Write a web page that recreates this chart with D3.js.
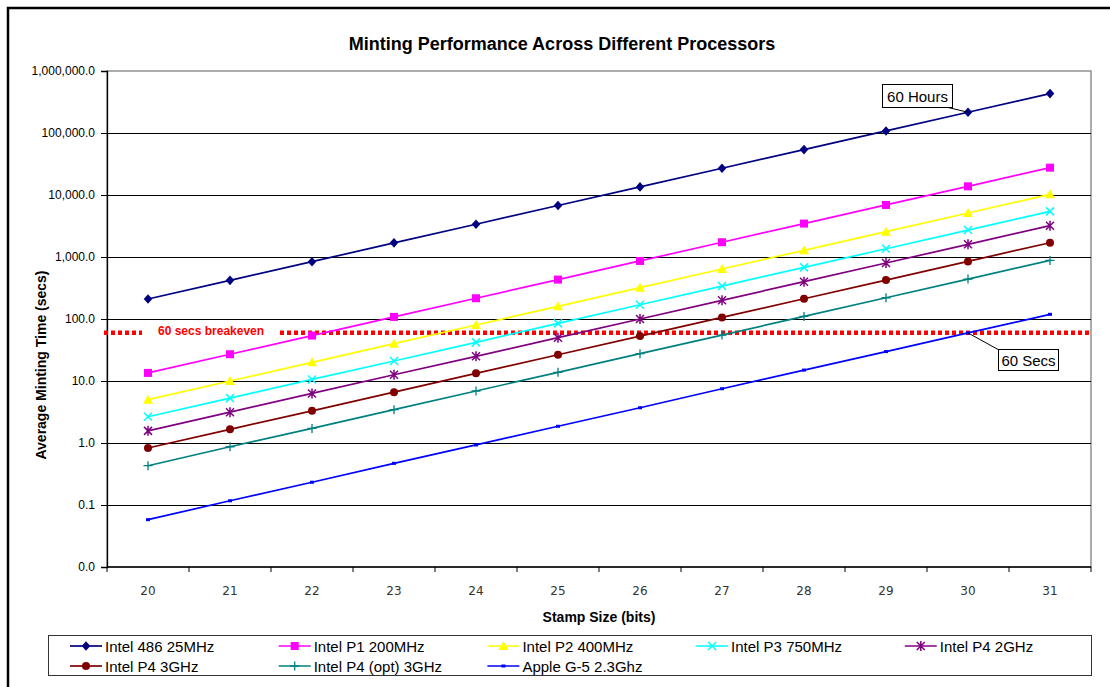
<!DOCTYPE html>
<html>
<head>
<meta charset="utf-8">
<script src="https://cdn.jsdelivr.net/npm/d3@7"></script>
<style>
  html, body { margin: 0; padding: 0; background: #fff; }
  svg { display: block; font-family: Arial, "Liberation Sans", sans-serif; }
</style>
</head>
<body>
<svg id="chart" width="1110" height="687"></svg>
<script>
// Stamp sizes in bits (x categories)
const stampBits = [20, 21, 22, 23, 24, 25, 26, 27, 28, 29, 30, 31];

// Average minting time in seconds for each processor
const intel486 = [210, 420, 840, 1690, 3380, 6760, 13500, 27000, 54000, 108000, 216000, 432000];
const intelP1 = [13.5, 27, 54, 108, 216, 432, 864, 1730, 3460, 6910, 13800, 27600];
const intelP2 = [5.0, 10.0, 20, 40, 80, 160, 320, 640, 1280, 2560, 5120, 10240];
const intelP3 = [2.65, 5.3, 10.6, 21, 42, 85, 170, 340, 680, 1360, 2720, 5440];
const intelP4_2 = [1.57, 3.14, 6.3, 12.6, 25, 50, 100, 200, 400, 800, 1600, 3200];
const intelP4_3 = [0.83, 1.66, 3.3, 6.6, 13.3, 26.5, 53, 106, 212, 424, 850, 1700];
const intelP4opt = [0.43, 0.87, 1.72, 3.45, 6.9, 13.8, 27.6, 55, 110, 220, 440, 880];
const appleG5 = [0.058, 0.117, 0.233, 0.47, 0.93, 1.86, 3.7, 7.5, 15, 29.8, 59.6, 119];

const seriesNames = ["Intel 486 25MHz", "Intel P1 200MHz", "Intel P2 400MHz", "Intel P3 750MHz",
  "Intel P4 2GHz", "Intel P4 3GHz", "Intel P4 (opt) 3GHz", "Apple G-5 2.3Ghz"];
const seriesValues = [intel486, intelP1, intelP2, intelP3, intelP4_2, intelP4_3, intelP4opt, appleG5];
const seriesColors = ["#000080", "#FF00FF", "#FFFF00", "#00FFFF", "#800080", "#800000", "#008080", "#0000FF"];
const seriesMarkers = ["diamond", "square", "triangle", "x", "star", "circle", "plus", "dash"];

// Y axis ticks and their printed labels
const yTickValues = [0.01, 0.1, 1, 10, 100, 1000, 10000, 100000, 1000000];
const yTickLabels = ["0.0", "0.1", "1.0", "10.0", "100.0", "1,000.0", "10,000.0", "100,000.0", "1,000,000.0"];

// Breakeven threshold and call-outs
const breakevenSecs = 60;
const breakevenLabel = "60 secs breakeven";
const hoursNote = { text: "60 Hours", bits: 30, series: 0 };
const secsNote = { text: "60 Secs", bits: 30, series: 7 };

const titleText = "Minting Performance Across Different Processors";
const xTitle = "Stamp Size (bits)";
const yTitle = "Average Minting Time (secs)";

const svg = d3.select("#chart");
const plot = { left: 107, right: 1091, top: 71, bottom: 567 };

const x = d3.scaleBand().domain(stampBits).range([plot.left, plot.right]).padding(0);
const y = d3.scaleLog().domain([0.01, 1000000]).range([plot.bottom, plot.top]);
const cx = d => x(d) + x.bandwidth() / 2;

// Outer chart border
svg.append("rect").attr("x", 8).attr("y", 8).attr("width", 1200).attr("height", 800)
  .attr("fill", "none").attr("stroke", "#000").attr("stroke-width", 2.5);

// Title
svg.append("text").attr("x", 562).attr("y", 50).attr("text-anchor", "middle")
  .attr("font-size", 18).attr("font-weight", "bold").text(titleText);

// Plot area frame (grey) and gridlines
svg.append("rect").attr("x", plot.left).attr("y", plot.top)
  .attr("width", plot.right - plot.left).attr("height", plot.bottom - plot.top)
  .attr("fill", "#fff").attr("stroke", "#808080").attr("stroke-width", 1.3);

svg.append("g").selectAll("line").data(yTickValues.slice(1, -1)).join("line")
  .attr("x1", plot.left).attr("x2", plot.right)
  .attr("y1", d => Math.round(y(d)) + 0.5).attr("y2", d => Math.round(y(d)) + 0.5)
  .attr("stroke", "#000").attr("stroke-width", 1);

// Y axis
const yAxis = d3.axisLeft(y).tickValues(yTickValues).tickSize(6).tickPadding(6)
  .tickFormat((d, i) => yTickLabels[i]);
const gy = svg.append("g").attr("transform", `translate(${plot.left},0)`).call(yAxis);
gy.select(".domain").attr("stroke", "#000").attr("stroke-width", 1.3);
gy.selectAll(".tick line").attr("stroke", "#000");
gy.selectAll(".tick text").attr("font-size", 12).attr("font-family", "Arial, 'Liberation Sans', sans-serif").attr("fill", "#000");

// X axis: ticks between categories
const gx = svg.append("g").attr("transform", `translate(0,${plot.bottom})`);
gx.append("line").attr("x1", plot.left).attr("x2", plot.right).attr("y1", 0).attr("y2", 0)
  .attr("stroke", "#000").attr("stroke-width", 1.3);
gx.selectAll("line.tk").data(stampBits.concat(["end"])).join("line").attr("class", "tk")
  .attr("x1", d => d === "end" ? plot.right : x(d)).attr("x2", d => d === "end" ? plot.right : x(d))
  .attr("y1", 0).attr("y2", 5).attr("stroke", "#000");
gx.selectAll("text").data(stampBits).join("text")
  .attr("x", d => cx(d)).attr("y", 28).attr("text-anchor", "middle")
  .attr("font-size", 12).attr("font-family", "'DejaVu Sans', Verdana, sans-serif").attr("fill", "#333")
  .text(d => d);

// Axis titles
svg.append("text").attr("x", 599).attr("y", 622).attr("text-anchor", "middle")
  .attr("font-size", 14).attr("font-weight", "bold").text(xTitle);
svg.append("text").attr("transform", "translate(46,365) rotate(-90)").attr("text-anchor", "middle")
  .attr("font-size", 14).attr("font-weight", "bold").text(yTitle);

// Breakeven dotted line with its label
const yb = y(breakevenSecs);
const gb = svg.append("g");
[[104, 142], [280, 1089]].forEach(([a, b]) => {
  gb.append("line").attr("x1", a).attr("x2", b).attr("y1", yb).attr("y2", yb)
    .attr("stroke", "#FF0000").attr("stroke-width", 4.5).attr("stroke-dasharray", "4,3");
});
gb.append("text").attr("x", 158).attr("y", yb + 2).attr("fill", "#FF0000")
  .attr("font-size", 12).attr("font-weight", "bold").text(breakevenLabel);

// Marker drawing
function drawMarker(g, type, color, px, py, scale = 1) {
  const s = 4.3 * scale;
  switch (type) {
    case "diamond":
      g.append("path").attr("d", `M${px},${py - s - 0.5}L${px + s},${py}L${px},${py + s + 0.5}L${px - s},${py}Z`).attr("fill", color);
      break;
    case "square":
      g.append("rect").attr("x", px - 4).attr("y", py - 4).attr("width", 8).attr("height", 8).attr("fill", color);
      break;
    case "triangle":
      g.append("path").attr("d", `M${px},${py - 5}L${px + 5},${py + 4}L${px - 5},${py + 4}Z`).attr("fill", color);
      break;
    case "x":
      g.append("path").attr("d", `M${px - 4},${py - 4}L${px + 4},${py + 4}M${px - 4},${py + 4}L${px + 4},${py - 4}`)
        .attr("stroke", color).attr("stroke-width", 1.5);
      break;
    case "star":
      g.append("path").attr("d", `M${px - 4},${py - 4}L${px + 4},${py + 4}M${px - 4},${py + 4}L${px + 4},${py - 4}M${px},${py - 5}L${px},${py + 5}`)
        .attr("stroke", color).attr("stroke-width", 1.5);
      break;
    case "circle":
      g.append("circle").attr("cx", px).attr("cy", py).attr("r", 4).attr("fill", color);
      break;
    case "plus":
      g.append("path").attr("d", `M${px - 4.5},${py}L${px + 4.5},${py}M${px},${py - 4.5}L${px},${py + 4.5}`)
        .attr("stroke", color).attr("stroke-width", 1.3);
      break;
    case "dash":
      g.append("rect").attr("x", px - 2).attr("y", py - 1.5).attr("width", 4).attr("height", 3).attr("fill", color);
      break;
  }
}

// Series lines and markers
const line = d3.line().x(d => cx(d.bits)).y(d => y(d.v));
seriesValues.forEach((vals, si) => {
  const pts = stampBits.map((b, i) => ({ bits: b, v: vals[i] }));
  const g = svg.append("g");
  g.append("path").datum(pts).attr("d", line).attr("fill", "none")
    .attr("stroke", seriesColors[si]).attr("stroke-width", 1.7);
  pts.forEach(p => drawMarker(g, seriesMarkers[si], seriesColors[si], cx(p.bits), y(p.v)));
});

// Call-out boxes
function callout(note, bx, by, bw, bh, lx, ly) {
  const idx = stampBits.indexOf(note.bits);
  const px = cx(note.bits), py = y(seriesValues[note.series][idx]);
  const g = svg.append("g");
  g.append("line").attr("x1", px).attr("y1", py).attr("x2", lx).attr("y2", ly)
    .attr("stroke", "#000").attr("stroke-width", 1);
  g.append("rect").attr("x", bx).attr("y", by).attr("width", bw).attr("height", bh)
    .attr("fill", "#fff").attr("stroke", "#000").attr("stroke-width", 1);
  g.append("text").attr("x", bx + bw / 2).attr("y", by + bh / 2 + 5.5).attr("text-anchor", "middle")
    .attr("font-size", 15).text(note.text);
}
callout(hoursNote, 882.5, 84.5, 70, 23, 946, 107);
callout(secsNote, 998.5, 349.5, 60, 21, 999, 350);

// Legend
const leg = svg.append("g");
leg.append("rect").attr("x", 48.5).attr("y", 635.5).attr("width", 1043).attr("height", 40)
  .attr("fill", "#fff").attr("stroke", "#333").attr("stroke-width", 1);
seriesNames.forEach((name, i) => {
  const col = i < 5 ? i : i - 5;
  const row = i < 5 ? 0 : 1;
  const lx = 70 + col * 208.7;
  const ly = 646 + row * 20;
  leg.append("line").attr("x1", lx).attr("x2", lx + 32).attr("y1", ly).attr("y2", ly)
    .attr("stroke", seriesColors[i]).attr("stroke-width", 1.7);
  drawMarker(leg, seriesMarkers[i], seriesColors[i], lx + 16, ly);
  leg.append("text").attr("x", lx + 35).attr("y", ly + 5.5).attr("font-size", 15).text(name);
});
</script>
</body>
</html>
